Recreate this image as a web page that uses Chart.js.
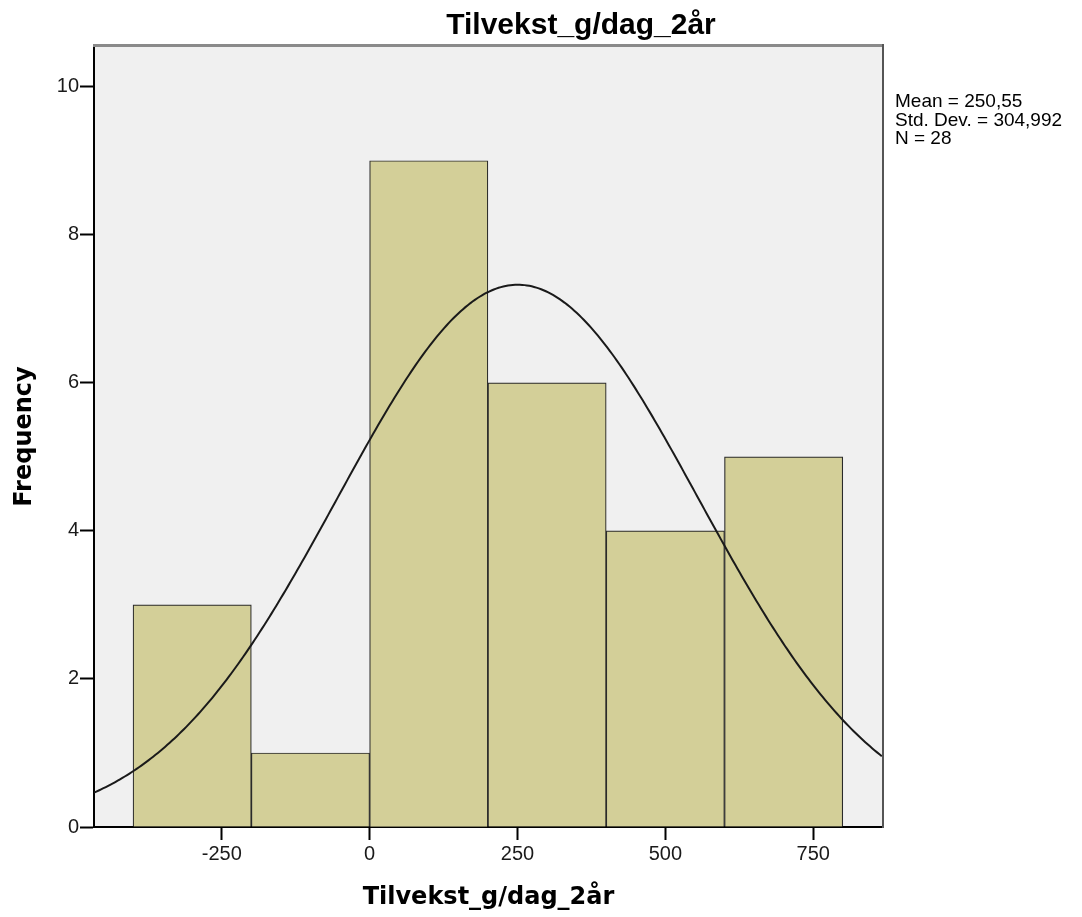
<!DOCTYPE html>
<html>
<head>
<meta charset="utf-8">
<script src="https://cdn.jsdelivr.net/npm/chart.js@4/dist/chart.umd.min.js"></script>
<style>
  html, body { margin: 0; padding: 0; background: #ffffff; }
  #wrap { width: 1082px; height: 917px; position: relative; }
</style>
</head>
<body>
<div id="wrap"><canvas id="c" width="1082" height="917"></canvas></div>
<script>
// Histogram bins (lower edges), their common width and the case counts
const binStarts = [-400, -200, 0, 200, 400, 600];
const binWidth = 200;
const counts = [3, 1, 9, 6, 4, 5];

// Axis ticks and visible ranges
const xTicks = [-250, 0, 250, 500, 750];
const yTicks = [0, 2, 4, 6, 8, 10];
const xRange = [-466, 868];
const yMax = 10.55;

// Descriptive statistics shown beside the plot; the normal curve uses them too
const meanValue = 250.55;
const stdDev = 304.992;
const nCases = 28;
const statsLines = ['Mean = 250,55', 'Std. Dev. = 304,992', 'N = 28'];

const titleText = 'Tilvekst_g/dag_2år';
const xTitle = 'Tilvekst_g/dag_2år';
const yTitle = 'Frequency';

// Bars sit at the bin centres; with a linear x scale Chart.js sizes them to the bin spacing
const barData = binStarts.map((s, i) => ({ x: s + binWidth / 2, y: counts[i] }));

// Fitted normal curve scaled to counts per bin
const curveData = [];
const scaleK = nCases * binWidth / (stdDev * Math.sqrt(2 * Math.PI));
for (let x = xRange[0]; x <= xRange[1]; x += 4) {
  const z = (x - meanValue) / stdDev;
  curveData.push({ x: x, y: scaleK * Math.exp(-0.5 * z * z) });
}

const plotBackground = {
  id: 'plotBackground',
  beforeDraw(chart) {
    const { ctx, chartArea: a } = chart;
    ctx.save();
    ctx.fillStyle = '#f0f0f0';
    ctx.fillRect(a.left, a.top, a.right - a.left, a.bottom - a.top);
    ctx.restore();
  }
};

const frameAndText = {
  id: 'frameAndText',
  afterDraw(chart) {
    const { ctx, chartArea: a } = chart;
    ctx.save();
    // top and right edges of the plot frame
    ctx.strokeStyle = '#8a8a8a';
    ctx.lineWidth = 3;
    ctx.beginPath();
    ctx.moveTo(a.left - 1, a.top - 0.5);
    ctx.lineTo(a.right + 1, a.top - 0.5);
    ctx.stroke();
    ctx.strokeStyle = '#555555';
    ctx.lineWidth = 2;
    ctx.beginPath();
    ctx.moveTo(a.right, a.top - 2);
    ctx.lineTo(a.right, a.bottom + 1);
    ctx.stroke();

    // chart title
    ctx.fillStyle = '#000000';
    ctx.font = 'bold 30px "Liberation Sans", Arial, sans-serif';
    ctx.textAlign = 'center';
    ctx.textBaseline = 'alphabetic';
    ctx.fillText(titleText, 581, 34);

    // statistics block
    ctx.font = '19px "Liberation Sans", Arial, sans-serif';
    ctx.textAlign = 'left';
    statsLines.forEach((t, i) => ctx.fillText(t, 895, 107 + i * 18.5));
    ctx.restore();
  }
};

new Chart(document.getElementById('c'), {
  type: 'bar',
  data: {
    datasets: [
      {
        type: 'line',
        data: curveData,
        borderColor: '#1a1a1a',
        borderWidth: 2,
        pointRadius: 0,
        tension: 0,
        fill: false,
        order: 0
      },
      {
        type: 'bar',
        data: barData,
        backgroundColor: '#d3cf98',
        borderColor: '#2a2a2a',
        borderWidth: 1.2,
        barPercentage: 1,
        categoryPercentage: 1,
        order: 1
      }
    ]
  },
  options: {
    responsive: false,
    animation: false,
    devicePixelRatio: 1,
    layout: { padding: { top: 46, right: 199, bottom: 0, left: 0 } },
    plugins: {
      legend: { display: false },
      tooltip: { enabled: false },
      title: { display: false }
    },
    scales: {
      x: {
        type: 'linear',
        offset: false,
        min: xRange[0],
        max: xRange[1],
        afterBuildTicks(scale) { scale.ticks = xTicks.map(v => ({ value: v })); },
        afterFit(scale) { scale.height = 90; },
        ticks: {
          autoSkip: false,
          maxRotation: 0,
          padding: 2,
          color: '#1a1a1a',
          font: { family: '"Liberation Sans", Arial, sans-serif', size: 20 }
        },
        grid: {
          offset: false,
          drawOnChartArea: false,
          drawTicks: true,
          tickLength: 13,
          tickColor: '#000000',
          tickWidth: 2
        },
        border: { display: true, color: '#000000', width: 2 },
        title: {
          display: true,
          text: xTitle,
          color: '#000000',
          font: { family: '"DejaVu Sans", Verdana, sans-serif', size: 24, weight: 'bold', lineHeight: 1.2 },
          padding: { top: 0, bottom: 5 }
        }
      },
      y: {
        type: 'linear',
        min: 0,
        max: yMax,
        afterBuildTicks(scale) { scale.ticks = yTicks.map(v => ({ value: v })); },
        afterFit(scale) { scale.width = 94; },
        ticks: {
          autoSkip: false,
          padding: 1,
          color: '#1a1a1a',
          font: { family: '"Liberation Sans", Arial, sans-serif', size: 20 }
        },
        grid: {
          drawOnChartArea: false,
          drawTicks: true,
          tickLength: 14,
          tickColor: '#000000',
          tickWidth: 2
        },
        border: { display: true, color: '#000000', width: 2 },
        title: {
          display: true,
          text: yTitle,
          color: '#000000',
          font: { family: '"DejaVu Sans", Verdana, sans-serif', size: 24, weight: 'bold', lineHeight: 1.2 },
          padding: { top: 10, bottom: 0 }
        }
      }
    }
  },
  plugins: [plotBackground, frameAndText]
});
</script>
</body>
</html>
